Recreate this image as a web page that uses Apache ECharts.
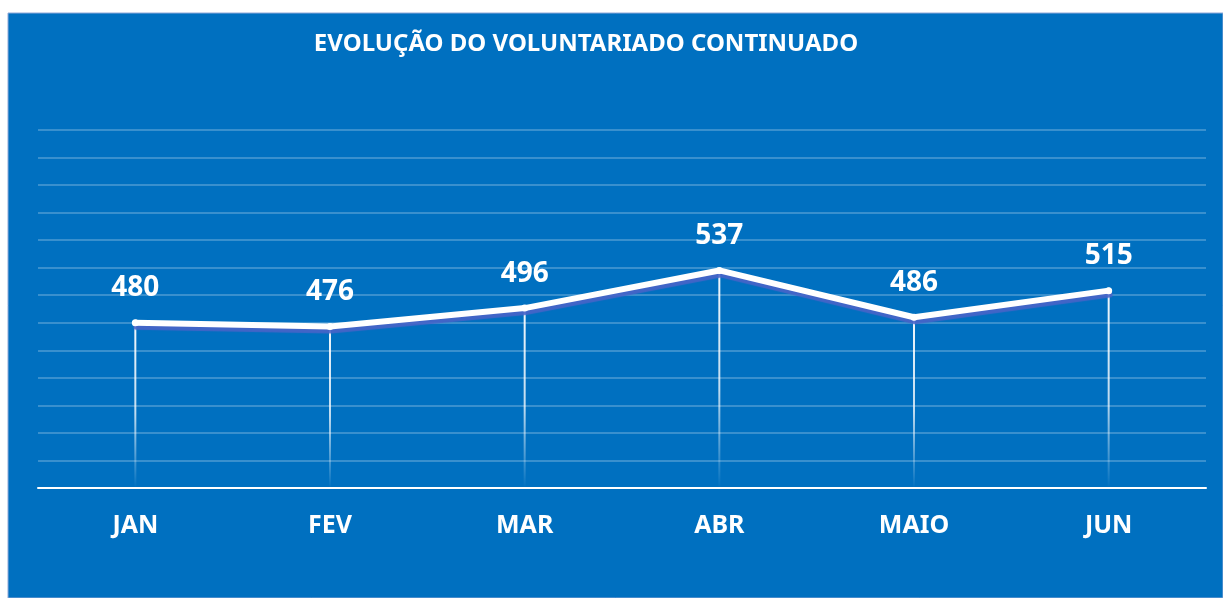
<!DOCTYPE html>
<html>
<head>
<meta charset="utf-8">
<script src="https://cdn.jsdelivr.net/npm/echarts@6/dist/echarts.min.js"></script>
<style>
  html, body { margin: 0; padding: 0; background: #ffffff; }
  #chart { width: 1223px; height: 598px; }
</style>
</head>
<body>
<div id="chart"></div>
<script>
const months = ["JAN", "FEV", "MAR", "ABR", "MAIO", "JUN"];
const volunteers = [480, 476, 496, 537, 486, 515];
const yMin = 300;
const yMax = 690;
const yStep = 30;

const chart = echarts.init(document.getElementById("chart"));

const option = {
  backgroundColor: "#ffffff",
  textStyle: { fontFamily: "Noto Sans" },
  graphic: [
    {
      type: "rect",
      z: -10,
      silent: true,
      shape: { x: 8, y: 13, width: 1215, height: 585 },
      style: { fill: "#0070C0", stroke: "#8fa8d8", lineWidth: 1 },
    },
  ],
  title: {
    text: "EVOLUÇÃO DO VOLUNTARIADO CONTINUADO",
    left: 581,
    top: 27,
    textAlign: "center",
    textStyle: { color: "#ffffff", fontSize: 24, fontWeight: "bold", fontFamily: "Noto Sans" },
  },
  grid: { left: 38, right: 17, top: 130, bottom: 110, containLabel: false },
  xAxis: {
    type: "category",
    data: months,
    boundaryGap: true,
    axisLine: { show: true, lineStyle: { color: "#ffffff", width: 2 } },
    axisTick: { show: false },
    axisLabel: {
      color: "#ffffff",
      fontSize: 25,
      fontWeight: "bold",
      margin: 25,
    },
  },
  yAxis: {
    type: "value",
    min: yMin,
    max: yMax,
    interval: yStep,
    axisLine: { show: false },
    axisTick: { show: false },
    axisLabel: { show: false },
    splitLine: { lineStyle: { color: "rgba(255,255,255,0.3)", width: 1.5 } },
  },
  series: [
    {
      // drop lines from each point down to the axis
      type: "bar",
      data: volunteers,
      barWidth: 2,
      silent: true,
      itemStyle: {
        color: {
          type: "linear",
          x: 0, y: 0, x2: 0, y2: 1,
          colorStops: [
            { offset: 0, color: "rgba(255,255,255,0.95)" },
            { offset: 0.55, color: "rgba(255,255,255,0.75)" },
            { offset: 1, color: "rgba(255,255,255,0)" },
          ],
        },
      },
    },
    {
      type: "line",
      data: volunteers,
      symbol: "circle",
      symbolSize: 7,
      showSymbol: true,
      itemStyle: { color: "#ffffff" },
      lineStyle: {
        color: "#ffffff",
        width: 6,
        cap: "round",
        join: "round",
        shadowColor: "rgba(72,100,200,0.9)",
        shadowOffsetX: 1,
        shadowOffsetY: 4,
        shadowBlur: 1,
      },
      label: {
        show: true,
        position: "top",
        distance: 17,
        color: "#ffffff",
        fontSize: 28,
        fontWeight: "bold",
      },
      z: 3,
    },
  ],
};

chart.setOption(option);
</script>
</body>
</html>
